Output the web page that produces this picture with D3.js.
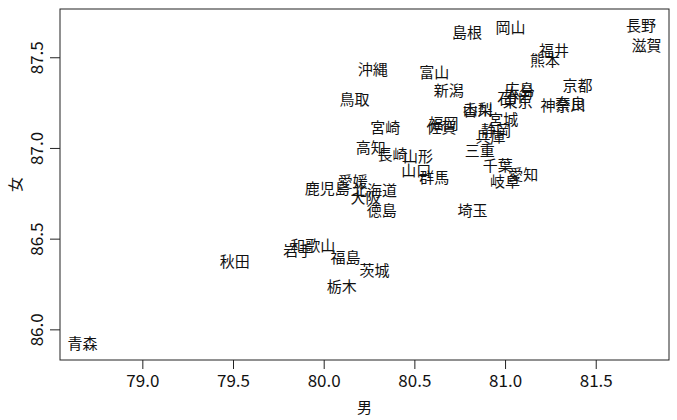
<!DOCTYPE html>
<meta charset="utf-8">
<style>
body { margin: 0; background: #fff; }
text { font-family: "Noto Sans CJK JP", sans-serif; fill: #111; }
.tick text { font-size: 17px; font-family: "Noto Sans CJK JP", sans-serif; }
.pref { font-size: 15px; }
.axis-title { font-size: 15px; }
</style>
<svg width="677" height="420"></svg>
<script src="https://cdn.jsdelivr.net/npm/d3@7"></script>
<script>

var prefs = ["北海道","青森","岩手","宮城","秋田","山形","福島","茨城","栃木","群馬",
  "埼玉","千葉","東京","神奈川","新潟","富山","石川","福井","山梨","長野",
  "岐阜","静岡","愛知","三重","滋賀","京都","大阪","兵庫","奈良","和歌山",
  "鳥取","島根","岡山","広島","山口","徳島","香川","愛媛","高知","福岡",
  "佐賀","長崎","熊本","大分","宮崎","鹿児島","沖縄"];

var male = [80.28,78.67,79.86,80.99,79.51,80.52,80.12,80.28,80.10,80.61,
  80.82,80.96,81.07,81.32,80.69,80.61,81.04,81.27,80.85,81.75,
  81.00,80.95,81.10,80.86,81.78,81.40,80.23,80.92,81.36,79.94,
  80.17,80.79,81.03,81.08,80.51,80.32,80.85,80.16,80.26,80.66,
  80.65,80.38,81.22,81.08,80.34,80.02,80.27];

var female = [86.77,85.93,86.44,87.16,86.38,86.96,86.40,86.33,86.24,86.84,
  86.66,86.91,87.26,87.24,87.32,87.42,87.28,87.54,87.22,87.68,
  86.82,87.10,86.86,86.99,87.57,87.35,86.73,87.07,87.25,86.47,
  87.27,87.64,87.67,87.33,86.88,86.66,87.21,86.82,87.01,87.14,
  87.12,86.97,87.49,87.31,87.12,86.78,87.44];

var xTicks = [79.0, 79.5, 80.0, 80.5, 81.0, 81.5];
var yTicks = [86.0, 86.5, 87.0, 87.5];
var xLim = [78.546, 81.904];
var yLim = [85.831, 87.766];

var svg = d3.select("svg");
var pLeft = 60, pRight = 669, pTop = 9, pBottom = 360;

var x = d3.scaleLinear().domain(xLim).range([pLeft, pRight]);
var y = d3.scaleLinear().domain(yLim).range([pBottom, pTop]);

var fmt = d3.format(".1f");

// R-style axes: no axis line, just ticks next to the box
var xAxis = svg.append("g")
    .attr("transform", "translate(0," + pBottom + ")")
    .call(d3.axisBottom(x).tickValues(xTicks).tickFormat(fmt).tickSize(9).tickPadding(6));
xAxis.select(".domain").remove();
xAxis.selectAll(".tick line").attr("stroke", "#222");

var yAxis = svg.append("g")
    .attr("transform", "translate(" + pLeft + ",0)")
    .call(d3.axisLeft(y).tickValues(yTicks).tickFormat(fmt).tickSize(10));
yAxis.select(".domain").remove();
yAxis.selectAll(".tick line").attr("stroke", "#222");
yAxis.selectAll(".tick text")
    .attr("x", null).attr("dy", null)
    .attr("text-anchor", "middle")
    .attr("dominant-baseline", "central")
    .attr("transform", "translate(-25,0) rotate(-90)");

svg.append("rect")
    .attr("x", pLeft).attr("y", pTop)
    .attr("width", pRight - pLeft).attr("height", pBottom - pTop)
    .attr("fill", "none").attr("stroke", "#222").attr("stroke-width", 1);

svg.append("g").selectAll("text")
  .data(prefs)
  .enter().append("text")
    .attr("class", "pref")
    .attr("x", function(d, i) { return x(male[i]); })
    .attr("y", function(d, i) { return y(female[i]); })
    .attr("text-anchor", "middle")
    .attr("dominant-baseline", "central")
    .text(function(d) { return d; });

svg.append("text")
    .attr("class", "axis-title")
    .attr("x", (pLeft + pRight) / 2).attr("y", 406)
    .attr("text-anchor", "middle")
    .attr("dominant-baseline", "central")
    .text("男");

svg.append("text")
    .attr("class", "axis-title")
    .attr("transform", "translate(14," + ((pTop + pBottom) / 2) + ") rotate(-90)")
    .attr("text-anchor", "middle")
    .attr("dominant-baseline", "central")
    .text("女");

</script>
